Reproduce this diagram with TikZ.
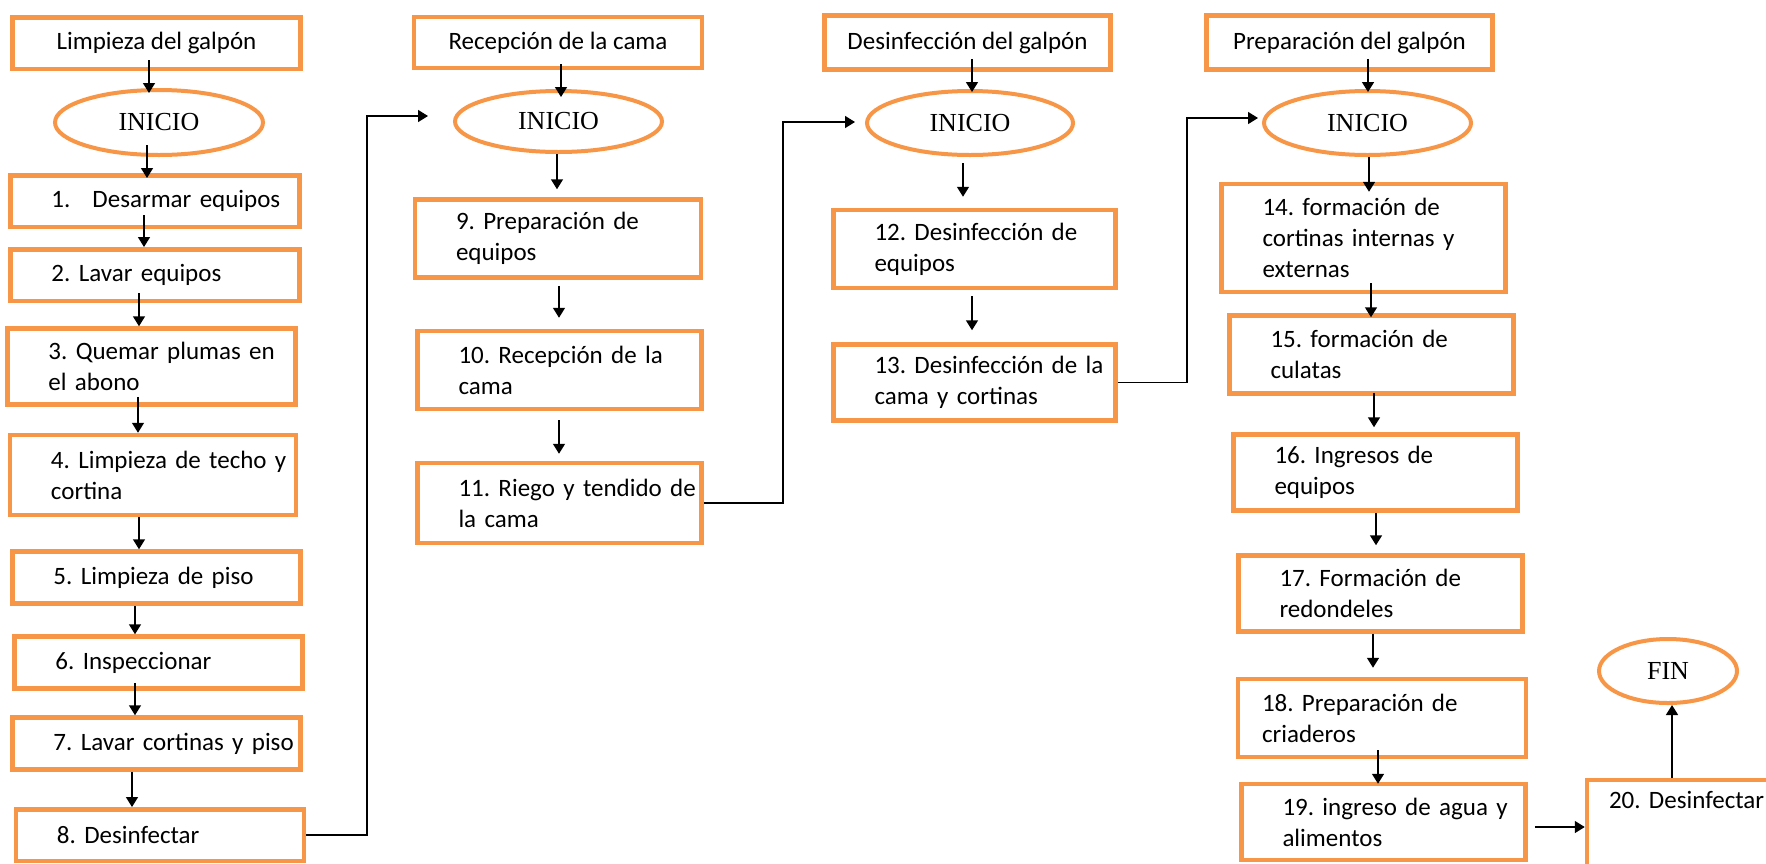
\documentclass[tikz,border=0pt]{standalone}
\usepackage{fontspec}
\setmainfont{Carlito}
\newfontfamily\inicioserif{Liberation Serif}
\usepackage{tikz}
\usetikzlibrary{shapes.geometric, arrows.meta, positioning, calc}
\definecolor{galponorange}{HTML}{F79646}
\frenchspacing

\begin{document}
\begin{tikzpicture}[x=0.5pt, y=-0.5pt,
  font=\fontsize{12.5}{15.5}\selectfont\frenchspacing,
  titlebox/.style={draw=galponorange, line width=2.25pt, fill=white,
    minimum width=143pt, minimum height=26pt, inner sep=0pt, align=center},
  stepbox/.style={draw=galponorange, line width=2.25pt, fill=white,
    text width=143pt, minimum height=26pt, inner xsep=0pt, inner ysep=0pt,
    align=left, execute at begin node={\leftskip=20.5pt}},
  startbox/.style={ellipse, draw=galponorange, line width=2pt, fill=white,
    minimum width=103.5pt, minimum height=32pt, inner sep=0pt,
    font=\inicioserif\fontsize{13}{15}\selectfont},
  arrow/.style={-{Triangle[length=5pt, width=6pt]}, line width=0.75pt, draw=black}]
  \useasboundingbox (0,0) rectangle (1766,863);

  % Limpieza del galpon
  \node[titlebox, minimum width=144pt, minimum height=25.75pt] (t1) at (156.5,43) {Limpieza del galpón};
  \node[startbox, minimum width=104pt, minimum height=32.5pt] (ini1) at (159,122.5) {INICIO};
  \node[stepbox, text width=144.5pt, minimum height=25.75pt] (b1) at (155,201) {1.\hspace{11pt}Desarmar equipos};
  \node[stepbox, text width=144.5pt, minimum height=25.75pt] (b2) at (155,275) {2. Lavar equipos};
  \node[stepbox, text width=144pt, minimum height=38pt] (b3) at (151.5,366.5) {3. Quemar plumas en\\el abono};
  \node[stepbox, minimum height=40pt] (b4) at (153,475) {4. Limpieza de techo y\\cortina};
  \node[stepbox, text width=144pt] (b5) at (156.5,577.5) {5. Limpieza de piso};
  \node[stepbox, text width=144pt] (b6) at (158.5,662.5) {6. Inspeccionar};
  \node[stepbox, text width=144pt] (b7) at (156.5,743.5) {7. Lavar cortinas y piso};
  \node[stepbox, text width=144pt, minimum height=25.75pt] (b8) at (160,835) {8. Desinfectar};

  % Recepcion de la cama
  \node[titlebox, minimum width=144pt, minimum height=25.5pt] (t2) at (558,42.5) {Recepción de la cama};
  \node[startbox, minimum height=30.5pt] (ini2) at (558.5,121.5) {INICIO};
  \node[stepbox, minimum height=39pt] (b9) at (558,238.5) {9. Preparación de\\equipos};
  \node[stepbox, text width=142pt, minimum height=39pt] (b10) at (559.5,370) {10. Recepción de la\\cama};
  \node[stepbox, text width=142pt, minimum height=40pt] (b11) at (559.5,503) {11. Riego y tendido de\\la cama};

  % Desinfeccion del galpon
  \node[titlebox, minimum height=27pt] (t3) at (967.5,42.5) {Desinfección del galpón};
  \node[startbox, minimum width=103pt] (ini3) at (970,123) {INICIO};
  \node[stepbox, text width=141pt, minimum height=39pt] (b12) at (974.5,249) {12. Desinfección de\\equipos};
  \node[stepbox, text width=141pt, minimum height=38pt] (b13) at (974.5,382.5) {13. Desinfección de la\\cama y cortinas};

  % Preparacion del galpon
  \node[titlebox, minimum height=27pt] (t4) at (1349.5,42.5) {Preparación del galpón};
  \node[startbox] (ini4) at (1367.5,123) {INICIO};
  \node[stepbox, text width=142pt, minimum height=54pt] (b14) at (1363.5,238) {14. formación de\\cortinas internas y\\externas};
  \node[stepbox, text width=142pt, minimum height=39pt] (b15) at (1371.5,354.5) {15. formación de\\culatas};
  \node[stepbox, text width=142pt, minimum height=38pt] (b16) at (1375.5,472.5) {16. Ingresos de\\equipos};
  \node[stepbox, text width=142pt, minimum height=38pt] (b17) at (1380.5,593.5) {17. Formación de\\redondeles};
  \node[stepbox, text width=144pt, minimum height=39pt,
    execute at begin node={\leftskip=12pt}] (b18) at (1382,718) {18. Preparación de\\criaderos};
  \node[stepbox, text width=142pt, minimum height=38pt] (b19) at (1383.5,822) {19. ingreso de agua y\\alimentos};
  \node[stepbox, text width=106pt, minimum height=47pt, text depth=27pt,
    execute at begin node={\leftskip=11pt}] (b20) at (1693,827) {20. Desinfectar};
  \node[startbox, minimum width=69pt] (fin) at (1668,671) {FIN};

  \coordinate (turnA) at (367,116);
  \coordinate (turnB) at (783,122);
  \coordinate (turnC) at (1187,118);

  \draw[arrow, shorten <=-5.5pt, shorten >=-2.5pt] (t1.south -| 149,0) -- (ini1.north -| 149,0);
  \draw[arrow, shorten <=-6pt, shorten >=-2.5pt] (ini1.south -| 147,0) -- (b1.north -| 147,0);
  \draw[arrow, shorten <=-7pt] (b1.south -| 144,0) -- (b2.north -| 144,0);
  \draw[arrow, shorten <=-5pt] (b2.south -| 139,0) -- (b3.north -| 139,0);
  \draw[arrow, shorten <=-5pt] (b3.south -| 138,0) -- (b4.north -| 138,0);
  \draw[arrow] (b4.south -| 139,0) -- (b5.north -| 139,0);
  \draw[arrow] (b5.south -| 135,0) -- (b6.north -| 135,0);
  \draw[arrow, shorten <=-4pt] (b6.south -| 135,0) -- (b7.north -| 135,0);
  \draw[arrow] (b7.south -| 132,0) -- (b8.north -| 132,0);
  \draw[arrow, shorten >=12.5pt] (b8.east) -| (turnA) -- (ini2.west |- turnA);

  \draw[arrow, shorten <=-3pt, shorten >=-4pt] (t2.south -| 561,0) -- (ini2.north -| 561,0);
  \draw[arrow, shorten >=4pt] (ini2.south -| 557,0) -- (b9.north -| 557,0);
  \draw[arrow, shorten <=3pt, shorten >=5.5pt] (b9.south -| 559,0) -- (b10.north -| 559,0);
  \draw[arrow, shorten <=4.5pt, shorten >=3.5pt] (b10.south -| 559,0) -- (b11.north -| 559,0);
  \draw[arrow, shorten >=5pt] (b11.east) -| (turnB) -- (ini3.west |- turnB);

  \draw[arrow, shorten <=-6.5pt, shorten >=-1.5pt] (t3.south -| 972,0) -- (ini3.north -| 972,0);
  \draw[arrow, shorten <=3pt, shorten >=5.5pt] (ini3.south -| 963,0) -- (b12.north -| 963,0);
  \draw[arrow, shorten <=3pt, shorten >=6pt] (b12.south -| 972,0) -- (b13.north -| 972,0);
  \draw[arrow, shorten >=2pt] (b13.east) -| (turnC) -- (ini4.west |- turnC);

  \draw[arrow, shorten <=-6.5pt, shorten >=-1.5pt] (t4.south -| 1368,0) -- (ini4.north -| 1368,0);
  \draw[arrow, shorten >=-5pt] (ini4.south -| 1369,0) -- (b14.north -| 1369,0);
  \draw[arrow, shorten <=-5.5pt, shorten >=-2pt] (b14.south -| 1371,0) -- (b15.north -| 1371,0);
  \draw[arrow, shorten <=-1.5pt, shorten >=2.5pt] (b15.south -| 1374,0) -- (b16.north -| 1374,0);
  \draw[arrow, shorten >=4pt] (b16.south -| 1376,0) -- (b17.north -| 1376,0);
  \draw[arrow, shorten >=4.5pt] (b17.south -| 1373,0) -- (b18.north -| 1373,0);
  \draw[arrow, shorten <=-4.5pt, shorten >=-1pt] (b18.south -| 1378,0) -- (b19.north -| 1378,0);
  \draw[arrow, shorten <=3.5pt] (b19.east |- b20.west) -- (b20.west);
  \draw[arrow] (b20.north -| 1672,0) -- (fin.south -| 1672,0);
\end{tikzpicture}
\end{document}
